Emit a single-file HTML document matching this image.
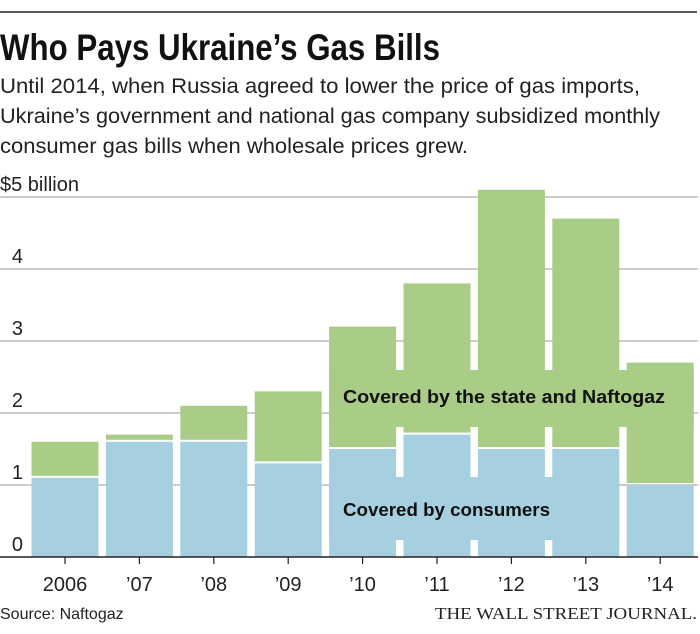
<!DOCTYPE html>
<html><head><meta charset="utf-8"><style>
body{margin:0;background:#fff;width:700px;height:629px;overflow:hidden;font-family:"Liberation Sans",sans-serif}
</style></head><body>
<svg width="700" height="629" viewBox="0 0 700 629" xmlns="http://www.w3.org/2000/svg">
<line x1="0" y1="12" x2="697" y2="12" stroke="#222" stroke-width="1.5"/>
<text x="0" y="60" font-size="37" font-weight="bold" fill="#111" textLength="440" lengthAdjust="spacingAndGlyphs">Who Pays Ukraine’s Gas Bills</text>
<g font-size="21" fill="#222">
<text x="0" y="93" textLength="640" lengthAdjust="spacingAndGlyphs">Until 2014, when Russia agreed to lower the price of gas imports,</text>
<text x="0" y="123" textLength="660" lengthAdjust="spacingAndGlyphs">Ukraine’s government and national gas company subsidized monthly</text>
<text x="0" y="153" textLength="468" lengthAdjust="spacingAndGlyphs">consumer gas bills when wholesale prices grew.</text>
</g>
<g id="grid"></g>
<g id="bars"></g>
<g id="labels"></g>
<text x="0" y="619" font-size="16" fill="#222">Source: Naftogaz</text>
<text x="697" y="619" font-size="17" text-anchor="end" fill="#222" font-family="Liberation Serif, serif" textLength="262" lengthAdjust="spacingAndGlyphs">THE WALL STREET JOURNAL.</text>
</svg>
<script>
const categories=["2006","’07","’08","’09","’10","’11","’12","’13","’14"];
const consumers=[1.1,1.6,1.6,1.3,1.5,1.7,1.5,1.5,1.0];
const totals=[1.6,1.7,2.1,2.3,3.2,3.8,5.1,4.7,2.7];
const yTicks=[0,1,2,3,4,5];
const yTickLabels=["0","1","2","3","4","$5 billion"];
const NS="http://www.w3.org/2000/svg";
const y0=557,unit=72,x0=31.5,pitch=74.4,bw=67;
const y=v=>y0-v*unit, x=i=>x0+i*pitch;
function mk(tag,attrs,parent){const e=document.createElementNS(NS,tag);for(const k in attrs)e.setAttribute(k,attrs[k]);document.getElementById(parent).appendChild(e);return e;}
yTicks.forEach((t,i)=>{
 if(t>0){const l=mk('line',{x1:0,x2:698,y1:y(t),y2:y(t),stroke:'#bbb','stroke-width':1.5},'grid');
 
 }
 const tx=mk('text',{x:i==5?0:23,y:y(t)-6,'font-size':20,fill:'#222','text-anchor':i==5?'start':'end'},'grid');
 tx.textContent=yTickLabels[i];
 
 
});
categories.forEach((c,i)=>{
 const b=mk('rect',{x:x(i),y:y(consumers[i]),width:bw,height:y0-y(consumers[i]),fill:'#a6cfe0'},'bars');
 
 
 const g=mk('rect',{x:x(i),y:y(totals[i]),width:bw,height:y(consumers[i])-y(totals[i])-2,fill:'#a9cc87'},'bars');
 
 
 const tk=mk('line',{x1:x(i)+bw/2,x2:x(i)+bw/2,y1:y0,y2:y0+7,stroke:'#222','stroke-width':1.2},'labels');
 
 
 const t=mk('text',{x:x(i)+bw/2,y:y0+34,'font-size':20,fill:'#222','text-anchor':'middle'},'labels');
 t.textContent=c;
 
 
});
const gb=mk('rect',{x:x(4),y:370,width:x(8)+bw-x(4),height:57,fill:'#a9cc87'},'labels');


const bb=mk('rect',{x:x(4),y:477,width:x(7)+bw-x(4),height:63,fill:'#a6cfe0'},'labels');


const ax=mk('line',{x1:0,x2:698,y1:y0,y2:y0,stroke:'#222','stroke-width':1.5},'labels');


const l1=mk('text',{x:343,y:403,'font-size':18,'font-weight':'bold',fill:'#111',textLength:322,lengthAdjust:'spacingAndGlyphs'},'labels');
l1.textContent='Covered by the state and Naftogaz';


const l2=mk('text',{x:343,y:516,'font-size':18,'font-weight':'bold',fill:'#111',textLength:207,lengthAdjust:'spacingAndGlyphs'},'labels');
l2.textContent='Covered by consumers';


</script>
</body></html>
